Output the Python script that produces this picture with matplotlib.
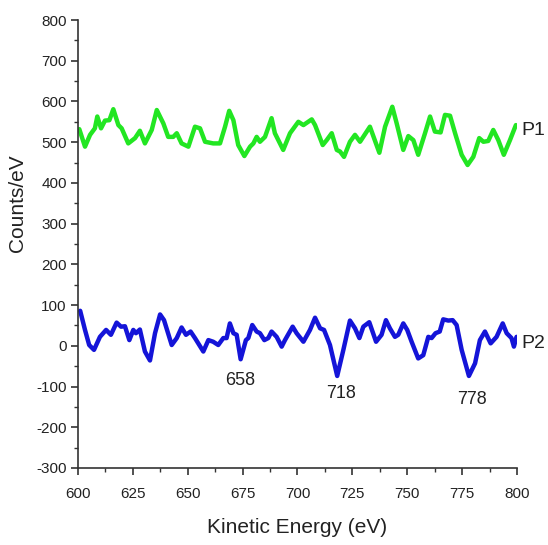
import matplotlib
matplotlib.use("Agg")
import matplotlib.pyplot as plt
from matplotlib.ticker import MultipleLocator

plt.rcParams['font.family'] = ['Liberation Sans', 'DejaVu Sans']
plt.rcParams['axes.unicode_minus'] = False

# P1 (green) spectrum
p1_energy = [600.6, 603.2, 605.5, 607.7, 608.8, 610.5, 612.3, 614.3, 616.1, 618.4, 619.9, 622.9, 626, 628.2,
             630.5, 633.6, 635.9, 638.9, 641.1, 643.4, 645, 647.2, 650.3, 653.3, 655.6, 657.9, 661.6, 664.7,
             667, 668.9, 670.8, 673, 675.8, 678.4, 679.9, 681.4, 682.9, 685.2, 688.2, 689.7, 693.5, 696.6,
             700.4, 702.7, 706.5, 708, 711.5, 713.3, 715.6, 717.9, 719.4, 721.2, 723.9, 726.2, 728.5, 733,
             737.3, 739.9, 743.2, 745.2, 748.2, 750.5, 752.8, 755, 758.1, 760.4, 762.6, 765.2, 767.2, 769.5,
             771.8, 774.8, 777.5, 780.1, 782.8, 784.7, 786.9, 789.2, 791.5, 794, 796.8, 799.5]
p1_counts = [532, 489, 518, 534, 563, 534, 553, 554, 581, 542, 534, 497, 510, 528,
             497, 530, 579, 546, 513, 513, 522, 497, 489, 538, 534, 501, 497, 497,
             538, 577, 554, 493, 466, 489, 497, 513, 501, 513, 559, 522, 481, 522,
             550, 542, 556, 542, 493, 505, 522, 481, 477, 464, 501, 518, 501, 538,
             474, 538, 587, 546, 481, 515, 505, 469, 522, 563, 526, 524, 567, 565,
             522, 469, 444, 464, 510, 501, 503, 530, 505, 469, 505, 542]

# P2 (blue) spectrum
p2_energy = [601, 603.2, 605.1, 607.3, 610, 612.8, 615, 617.6, 619.6, 621.4, 623.4, 625.2, 626.4, 628.2,
             630.5, 632.8, 635.1, 637.4, 639.2, 642.7, 645, 647.2, 649.2, 651.3, 653.3, 657.1, 659.4, 661.6,
             663.9, 666.2, 667.7, 669.2, 670.8, 672.3, 674.1, 676.5, 677.6, 679.4, 681.4, 682.9, 684.9, 686.7,
             688.2, 690.5, 692.8, 694.3, 697.8, 699.6, 702.7, 705.7, 708, 710.3, 712.1, 714.8, 718.1, 720.9,
             723.9, 726.2, 728.2, 730, 732.7, 735.8, 738.3, 740.3, 742.1, 744.4, 745.9, 748.2, 750, 752,
             755, 757.3, 759.6, 761.1, 762.9, 764.8, 766.4, 768.7, 770.7, 772.5, 774.8, 778.1, 780.9, 783.1,
             785.4, 788, 790.7, 793.5, 795.3, 797.5, 798.6, 799.8]
p2_counts = [86, 39, 2, -10, 22, 39, 27, 57, 47, 48, 14, 39, 31, 40,
             -14, -36, 31, 77, 63, 2, 19, 45, 27, 35, 19, -14, 14, 10,
             2, 19, 19, 55, 31, 27, -33, 14, 19, 51, 35, 31, 14, 19,
             35, 22, -2, 14, 47, 31, 10, 39, 69, 43, 39, 2, -74, -10,
             62, 43, 19, 47, 58, 10, 27, 63, 43, 22, 27, 55, 39, 10,
             -31, -23, 22, 19, 31, 35, 65, 62, 63, 51, -10, -74, -43, 14,
             35, 6, 22, 55, 31, 19, -2, 22]

series_labels = ["P1", "P2"]
label_pos = [(802, 528), (802, 5)]
peak_labels = ["658", "718", "778"]
peak_pos = [(673.8, -86), (720, -118), (779.4, -133)]

xticks = [600, 625, 650, 675, 700, 725, 750, 775, 800]
yticks = [-300, -200, -100, 0, 100, 200, 300, 400, 500, 600, 700, 800]

fig = plt.figure(figsize=(5.48, 5.45), dpi=100)
ax = fig.add_axes([0.1423, 0.1413, 0.8011, 0.822])

ax.plot(p1_energy, p1_counts, color='#22e622', lw=3.2, solid_joinstyle='round', solid_capstyle='round')
ax.plot(p2_energy, p2_counts, color='#1414d8', lw=3.2, solid_joinstyle='round', solid_capstyle='round')

ax.set_xlim(600, 800)
ax.set_ylim(-300, 800)
ax.set_xticks(xticks)
ax.set_yticks(yticks)
ax.xaxis.set_minor_locator(MultipleLocator(12.5))
ax.yaxis.set_minor_locator(MultipleLocator(50))

for s in ['top', 'right']:
    ax.spines[s].set_visible(False)
for s in ['left', 'bottom']:
    ax.spines[s].set_color('#333333')
    ax.spines[s].set_linewidth(1.2)

ax.tick_params(which='major', direction='out', length=5, width=1.2, color='#333333',
               labelsize=11, labelcolor='#222222', pad=3)
ax.tick_params(axis='x', which='major', pad=9)
ax.tick_params(which='minor', direction='out', length=3, width=1.0, color='#333333')

ax.set_xlabel("Kinetic Energy (eV)", fontsize=15, color='#222222', labelpad=12)
ax.set_ylabel("Counts/eV", fontsize=15, color='#222222')
ax.yaxis.set_label_coords(-0.115, 0.59)

for lab, (x, y) in zip(series_labels, label_pos):
    ax.text(x, y, lab, fontsize=14, color='#222222', va='center', ha='left', clip_on=False)
for lab, (x, y) in zip(peak_labels, peak_pos):
    ax.text(x, y, lab, fontsize=13, color='#222222', va='center', ha='center')

fig.savefig("out.png", dpi=100, facecolor='white')
